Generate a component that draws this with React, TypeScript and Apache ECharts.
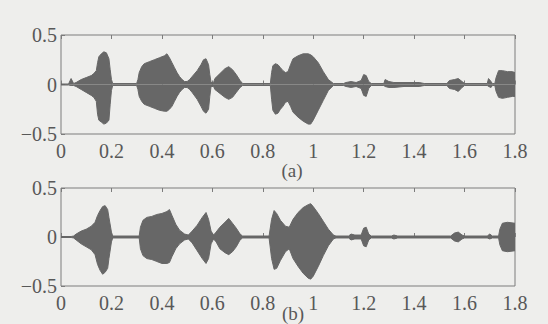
import React, { useEffect, useRef } from "react";
import * as echarts from "echarts";

// ---- data: envelope of each waveform ----
const TIME_A = [0, 0.03, 0.04, 0.05, 0.06, 0.08, 0.1, 0.12, 0.13, 0.14, 0.145, 0.15, 0.16, 0.17, 0.18, 0.19, 0.195, 0.2, 0.205, 0.3, 0.305, 0.31, 0.32, 0.33, 0.35, 0.37, 0.39, 0.41, 0.42, 0.43, 0.44, 0.45, 0.46, 0.47, 0.48, 0.49, 0.5, 0.51, 0.52, 0.54, 0.555, 0.565, 0.575, 0.585, 0.59, 0.595, 0.605, 0.61, 0.63, 0.65, 0.665, 0.68, 0.695, 0.71, 0.72, 0.83, 0.835, 0.84, 0.85, 0.86, 0.87, 0.88, 0.89, 0.9, 0.91, 0.92, 0.94, 0.96, 0.98, 0.99, 1.0, 1.02, 1.04, 1.06, 1.08, 1.12, 1.13, 1.15, 1.17, 1.19, 1.2, 1.21, 1.22, 1.23, 1.28, 1.285, 1.3, 1.32, 1.36, 1.42, 1.44, 1.53, 1.54, 1.56, 1.575, 1.59, 1.6, 1.69, 1.695, 1.705, 1.71, 1.72, 1.725, 1.735, 1.75, 1.77, 1.79, 1.8];
const UPPER_A = [0.005, 0.005, 0.06, 0.01, 0.02, 0.05, 0.07, 0.09, 0.11, 0.14, 0.22, 0.28, 0.31, 0.33, 0.32, 0.26, 0.15, 0.05, 0.01, 0.01, 0.05, 0.12, 0.18, 0.21, 0.23, 0.25, 0.27, 0.29, 0.31, 0.27, 0.22, 0.17, 0.12, 0.08, 0.05, 0.03, 0.03, 0.05, 0.08, 0.14, 0.2, 0.25, 0.26, 0.2, 0.1, 0.02, 0.02, 0.06, 0.11, 0.16, 0.18, 0.15, 0.1, 0.04, 0.01, 0.01, 0.12, 0.19, 0.21, 0.2, 0.17, 0.14, 0.12, 0.13, 0.2, 0.26, 0.29, 0.31, 0.31, 0.3, 0.28, 0.22, 0.13, 0.05, 0.01, 0.01, 0.02, 0.03, 0.02, 0.04, 0.1, 0.09, 0.03, 0.01, 0.01, 0.05, 0.03, 0.02, 0.02, 0.02, 0.01, 0.01, 0.04, 0.05, 0.06, 0.03, 0.01, 0.01, 0.06, 0.03, 0.01, 0.01, 0.07, 0.14, 0.14, 0.13, 0.13, 0.12];
const LOWER_A = [-0.005, -0.005, -0.01, -0.01, -0.02, -0.05, -0.08, -0.11, -0.13, -0.17, -0.3, -0.36, -0.38, -0.4, -0.39, -0.36, -0.2, -0.06, -0.01, -0.01, -0.05, -0.12, -0.17, -0.2, -0.22, -0.24, -0.26, -0.27, -0.27, -0.25, -0.22, -0.17, -0.12, -0.08, -0.05, -0.03, -0.03, -0.05, -0.08, -0.15, -0.22, -0.27, -0.29, -0.25, -0.12, -0.02, -0.02, -0.05, -0.09, -0.13, -0.15, -0.13, -0.08, -0.03, -0.01, -0.01, -0.15, -0.26, -0.3, -0.29, -0.25, -0.22, -0.18, -0.17, -0.22, -0.28, -0.33, -0.37, -0.4, -0.4, -0.36, -0.26, -0.16, -0.06, -0.01, -0.01, -0.02, -0.03, -0.02, -0.04, -0.11, -0.12, -0.04, -0.01, -0.01, -0.02, -0.03, -0.03, -0.02, -0.02, -0.01, -0.01, -0.04, -0.05, -0.07, -0.03, -0.01, -0.01, -0.02, -0.03, -0.01, -0.01, -0.07, -0.13, -0.14, -0.13, -0.12, -0.12];

const TIME_B = [0, 0.04, 0.05, 0.06, 0.08, 0.1, 0.12, 0.135, 0.145, 0.155, 0.165, 0.175, 0.185, 0.19, 0.2, 0.205, 0.31, 0.315, 0.325, 0.34, 0.36, 0.38, 0.4, 0.42, 0.43, 0.44, 0.455, 0.47, 0.49, 0.505, 0.52, 0.54, 0.56, 0.575, 0.585, 0.595, 0.605, 0.615, 0.63, 0.65, 0.665, 0.68, 0.695, 0.71, 0.72, 0.825, 0.835, 0.845, 0.855, 0.87, 0.89, 0.905, 0.92, 0.94, 0.96, 0.98, 0.99, 1.0, 1.02, 1.04, 1.06, 1.08, 1.09, 1.14, 1.15, 1.165, 1.19, 1.2, 1.21, 1.22, 1.23, 1.31, 1.32, 1.335, 1.545, 1.56, 1.575, 1.59, 1.6, 1.69, 1.7, 1.71, 1.735, 1.74, 1.75, 1.77, 1.8];
const UPPER_B = [0.005, 0.005, 0.01, 0.03, 0.06, 0.08, 0.11, 0.15, 0.22, 0.27, 0.31, 0.32, 0.28, 0.2, 0.05, 0.01, 0.01, 0.1, 0.17, 0.2, 0.21, 0.23, 0.24, 0.26, 0.28, 0.22, 0.13, 0.07, 0.03, 0.02, 0.06, 0.12, 0.2, 0.25, 0.18, 0.06, 0.02, 0.05, 0.1, 0.15, 0.19, 0.14, 0.09, 0.03, 0.01, 0.01, 0.18, 0.27, 0.24, 0.17, 0.11, 0.1, 0.18, 0.25, 0.3, 0.33, 0.34, 0.31, 0.24, 0.16, 0.08, 0.02, 0.01, 0.01, 0.03, 0.02, 0.02, 0.09, 0.1, 0.03, 0.01, 0.01, 0.02, 0.01, 0.01, 0.04, 0.05, 0.02, 0.01, 0.01, 0.03, 0.01, 0.01, 0.08, 0.14, 0.15, 0.14];
const LOWER_B = [-0.005, -0.005, -0.01, -0.03, -0.07, -0.1, -0.13, -0.18, -0.28, -0.34, -0.38, -0.36, -0.32, -0.22, -0.05, -0.01, -0.01, -0.12, -0.19, -0.22, -0.23, -0.25, -0.27, -0.27, -0.26, -0.2, -0.12, -0.07, -0.03, -0.02, -0.06, -0.14, -0.22, -0.27, -0.22, -0.07, -0.02, -0.05, -0.12, -0.16, -0.18, -0.15, -0.1, -0.03, -0.01, -0.01, -0.22, -0.33, -0.32, -0.24, -0.15, -0.12, -0.22, -0.3, -0.37, -0.42, -0.43, -0.4, -0.3, -0.19, -0.09, -0.02, -0.01, -0.01, -0.03, -0.02, -0.02, -0.09, -0.1, -0.03, -0.01, -0.01, -0.02, -0.01, -0.01, -0.04, -0.05, -0.02, -0.01, -0.01, -0.02, -0.01, -0.01, -0.08, -0.14, -0.15, -0.14];

const X_MIN = 0;
const X_MAX = 1.8;
const X_STEP = 0.2;
const Y_TICKS = [-0.5, 0, 0.5];
const CAPTIONS = ["(a)", "(b)"];

const WAVE = "#676767";
const INK = "#585858";
const BORDER = "#7c7c7c";
const FONT = "Liberation Serif";

function pairs(t: number[], v: number[]) {
  return t.map((x, i) => [x, v[i]]);
}

export default function App() {
  const ref = useRef<HTMLDivElement>(null);
  useEffect(() => {
    if (!ref.current) return;
    const chart = echarts.init(ref.current, null, { renderer: "svg" });
    const grids = [
      { left: 61, right: 33, top: 35, height: 99 },
      { left: 61, right: 33, top: 188, height: 98 },
    ];
    const xAxes: any[] = [];
    const yAxes: any[] = [];
    grids.forEach((_, gi) => {
      xAxes.push({
        type: "value",
        gridIndex: gi,
        position: "bottom",
        min: X_MIN,
        max: X_MAX,
        interval: X_STEP,
        axisLine: { show: false },
        splitLine: { show: false },
        axisTick: { inside: true, length: 4, lineStyle: { color: BORDER } },
        axisLabel: {
          color: INK,
          fontFamily: FONT,
          fontSize: 20,
          margin: 7,
          formatter: (v: number) => String(Math.round(v * 10) / 10),
        },
      });
      xAxes.push({
        type: "value",
        gridIndex: gi,
        position: "top",
        min: X_MIN,
        max: X_MAX,
        interval: X_STEP,
        axisLine: { show: false },
        splitLine: { show: false },
        axisTick: { inside: true, length: 4, lineStyle: { color: BORDER } },
        axisLabel: { show: false },
      });
      yAxes.push({
        type: "value",
        gridIndex: gi,
        min: Y_TICKS[0],
        max: Y_TICKS[Y_TICKS.length - 1],
        interval: 0.5,
        axisLine: { show: false },
        splitLine: { show: false },
        axisTick: { inside: true, length: 4, lineStyle: { color: BORDER } },
        axisLabel: {
          color: INK,
          fontFamily: FONT,
          fontSize: 20,
          margin: 4,
          formatter: (v: number) => (v < 0 ? "\u2212" + Math.abs(v) : String(v)),
        },
      });
    });
    const mk = (t: number[], v: number[], gi: number) => ({
      type: "line",
      xAxisIndex: gi * 2,
      yAxisIndex: gi,
      data: pairs(t, v),
      symbol: "none",
      lineStyle: { color: WAVE, width: 1 },
      areaStyle: { color: WAVE, opacity: 1 },
      silent: true,
      z: 2,
    });
    chart.setOption({
      animation: false,
      backgroundColor: "#eeeeec",
      grid: grids.map((g) => ({
        ...g,
        show: true,
        borderColor: BORDER,
        borderWidth: 1,
        backgroundColor: "transparent",
      })),
      xAxis: xAxes,
      yAxis: yAxes,
      series: [
        mk(TIME_A, UPPER_A, 0),
        mk(TIME_A, LOWER_A, 0),
        mk(TIME_B, UPPER_B, 1),
        mk(TIME_B, LOWER_B, 1),
      ],
      graphic: [
        {
          type: "text",
          x: 292,
          y: 170,
          style: {
            text: CAPTIONS[0],
            fill: INK,
            font: `19px '${FONT}'`,
            align: "center",
            verticalAlign: "middle",
          },
        },
        {
          type: "text",
          x: 293,
          y: 313,
          style: {
            text: CAPTIONS[1],
            fill: INK,
            font: `19px '${FONT}'`,
            align: "center",
            verticalAlign: "middle",
          },
        },
      ],
    });
    return () => chart.dispose();
  }, []);
  return (
    <div
      ref={ref}
      style={{ position: "absolute", left: 0, top: 0, width: 548, height: 324 }}
    />
  );
}
